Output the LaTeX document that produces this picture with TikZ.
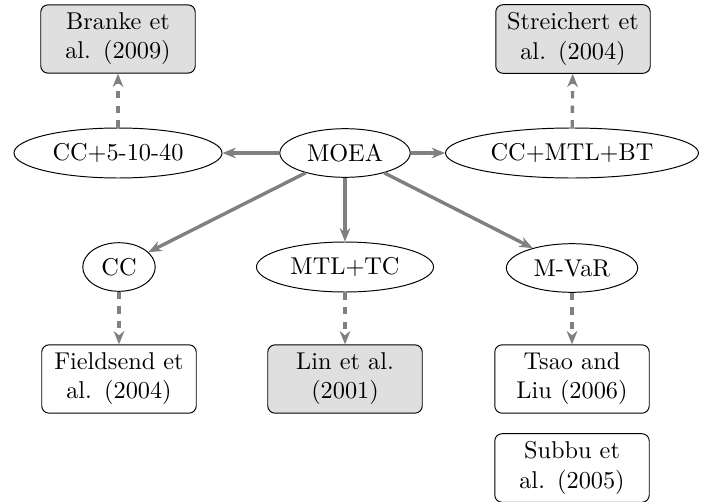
\documentclass[tikz,border=0pt]{standalone}
\usetikzlibrary{shapes.geometric,arrows.meta}
\begin{document}
\begin{tikzpicture}[x=0.4115pt,y=-0.4115pt,
  method/.style={ellipse,draw,minimum height=20pt},
  refbox/.style={draw,rounded corners=3pt,text width=2cm,align=center,minimum height=28pt},
  grayref/.style={refbox,fill=gray!25},
  link/.style={draw=gray,line width=1.4pt,-{Stealth[length=5.5pt,width=4.4pt]}},
  dlink/.style={link,dash pattern=on 3pt off 3pt}]
\useasboundingbox (0,0) rectangle (709,501);
\node[grayref] (branke) at (118,39) {Branke et al. (2009)};
\node[grayref] (streich) at (573,39) {Streichert et al. (2004)};
\node[method] (cc5) at (118,153) {CC+5-10-40};
\node[method] (moea) at (345,153) {MOEA};
\node[method] (ccmtl) at (572,153) {CC+MTL+BT};
\node[method] (cc) at (119,267) {CC};
\node[method] (mtltc) at (345,267) {MTL+TC};
\node[method] (mvar) at (572,268) {M-VaR};
\node[refbox] (field) at (119,379) {Fieldsend et al. (2004)};
\node[grayref] (lin) at (345,379) {Lin et al. (2001)};
\node[refbox] (tsao) at (572,379) {Tsao and Liu (2006)};
\node[refbox] (subbu) at (572,468) {Subbu et al. (2005)};
\draw[link] (moea) -- (cc5);
\draw[link] (moea) -- (ccmtl);
\draw[link] (moea) -- (cc);
\draw[link] (moea) -- (mtltc);
\draw[link] (moea) -- (mvar);
\draw[dlink] (cc5) -- (branke);
\draw[dlink] (ccmtl) -- (streich);
\draw[dlink] (cc) -- (field);
\draw[dlink] (mtltc) -- (lin);
\draw[dlink] (mvar) -- (tsao);
\end{tikzpicture}
\end{document}
